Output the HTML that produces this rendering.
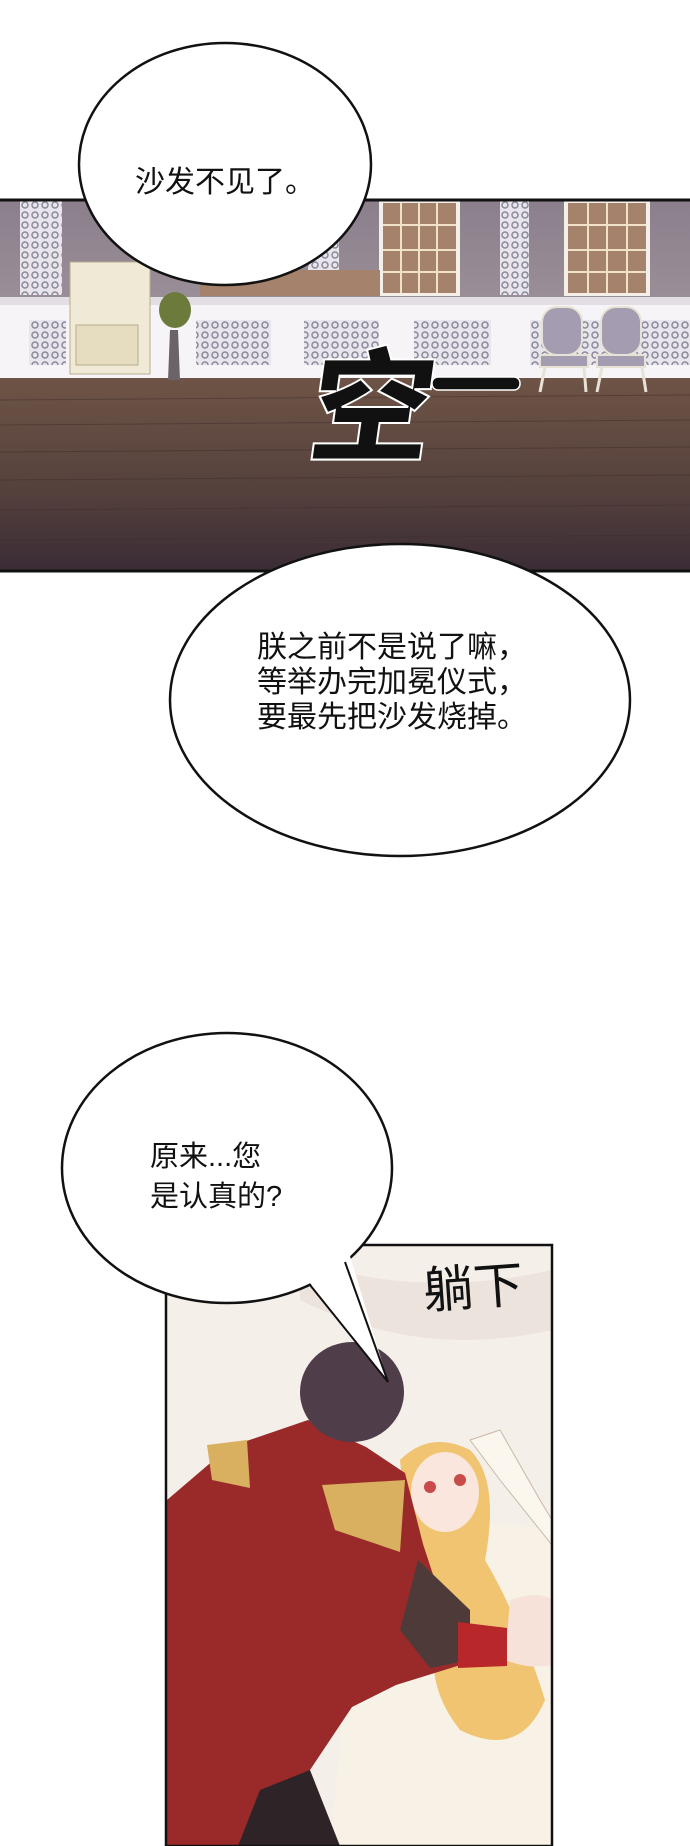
<!DOCTYPE html>
<html><head><meta charset="utf-8"><style>
html,body{margin:0;padding:0;background:#fff;}
body{width:690px;height:1846px;position:relative;overflow:hidden;font-family:"Liberation Sans","Noto Sans CJK SC",sans-serif;}
.t{position:absolute;color:#111;white-space:nowrap;}
</style></head><body>
<svg width="690" height="1846" style="position:absolute;left:0;top:0">
<defs>
<linearGradient id="fl" x1="0" y1="0" x2="0" y2="1"><stop offset="0" stop-color="#6e5446"/><stop offset="0.6" stop-color="#54403c"/><stop offset="1" stop-color="#3a2c36"/></linearGradient>
<linearGradient id="wl" x1="0" y1="0" x2="0" y2="1"><stop offset="0" stop-color="#8b7f8c"/><stop offset="1" stop-color="#9a8e98"/></linearGradient>
<pattern id="lace" width="10" height="10" patternUnits="userSpaceOnUse"><rect width="10" height="10" fill="#e8e6ec"/><circle cx="5" cy="5" r="3" fill="none" stroke="#8a8898" stroke-width="1.5"/></pattern>
</defs>
<!-- panel 1 -->
<rect x="0" y="200" width="690" height="100" fill="url(#wl)"/>
<rect x="20" y="200" width="42" height="95" fill="url(#lace)"/>
<rect x="500" y="200" width="29" height="95" fill="url(#lace)"/>
<rect x="308" y="240" width="31" height="55" fill="url(#lace)"/>
<rect x="379" y="200" width="81" height="96" fill="#f4efe8"/>
<rect x="383" y="203" width="73" height="90" fill="#a4826c"/>
<g stroke="#efe2c8" stroke-width="2"><line x1="419" y1="203" x2="419" y2="293"/><line x1="401" y1="203" x2="401" y2="293"/><line x1="437" y1="203" x2="437" y2="293"/><line x1="383" y1="225" x2="456" y2="225"/><line x1="383" y1="250" x2="456" y2="250"/><line x1="383" y1="272" x2="456" y2="272"/></g>
<rect x="564" y="200" width="86" height="96" fill="#f4efe8"/>
<rect x="568" y="203" width="78" height="90" fill="#a4826c"/>
<g stroke="#efe2c8" stroke-width="2"><line x1="607" y1="203" x2="607" y2="293"/><line x1="588" y1="203" x2="588" y2="293"/><line x1="627" y1="203" x2="627" y2="293"/><line x1="568" y1="225" x2="646" y2="225"/><line x1="568" y1="250" x2="646" y2="250"/><line x1="568" y1="272" x2="646" y2="272"/></g>
<rect x="200" y="270" width="180" height="26" fill="#a4826c"/>
<rect x="0" y="297" width="690" height="83" fill="#f6f4f6"/>
<rect x="0" y="297" width="690" height="8" fill="#e2dee4"/>
<rect x="29" y="320" width="37" height="45" fill="url(#lace)"/>
<rect x="196" y="320" width="75" height="45" fill="url(#lace)"/>
<rect x="304" y="320" width="75" height="45" fill="url(#lace)"/>
<rect x="414" y="320" width="77" height="45" fill="url(#lace)"/>
<rect x="530" y="320" width="160" height="45" fill="url(#lace)"/>
<rect x="0" y="378" width="690" height="193" fill="url(#fl)"/>
<g stroke="#3e2e2c" stroke-width="1" opacity="0.5">
<line x1="0" y1="400" x2="690" y2="395"/><line x1="0" y1="425" x2="690" y2="420"/><line x1="0" y1="452" x2="690" y2="447"/><line x1="0" y1="480" x2="690" y2="475"/><line x1="0" y1="510" x2="690" y2="505"/><line x1="0" y1="540" x2="690" y2="535"/></g>
<rect x="70" y="262" width="80" height="112" fill="#efe9d6" stroke="#b8ad90"/>
<rect x="76" y="325" width="62" height="40" fill="#e6dcc0" stroke="#b8ad90"/>
<path d="M170 330 L178 330 L180 380 L168 380 Z" fill="#6a6468"/>
<ellipse cx="175" cy="310" rx="16" ry="18" fill="#6c7a3c"/>
<g fill="#a49cb0" stroke="#e8e2d6" stroke-width="2">
<rect x="542" y="307" width="40" height="48" rx="15"/><rect x="540" y="355" width="48" height="12"/>
<rect x="601" y="307" width="40" height="48" rx="15"/><rect x="597" y="355" width="48" height="12"/></g>
<g stroke="#e8e2d6" stroke-width="3"><line x1="545" y1="367" x2="540" y2="392"/><line x1="584" y1="367" x2="586" y2="392"/><line x1="602" y1="367" x2="597" y2="392"/><line x1="642" y1="367" x2="646" y2="392"/></g>
<line x1="0" y1="200" x2="690" y2="200" stroke="#111" stroke-width="3"/>
<line x1="0" y1="571" x2="690" y2="571" stroke="#111" stroke-width="3"/>
<ellipse cx="225" cy="164" rx="146" ry="121" fill="#fff" stroke="#111" stroke-width="2.5"/>
<text x="308" y="452" font-family="Noto Sans CJK SC, sans-serif" font-size="124" font-weight="900" fill="#111" stroke="#fff" stroke-width="2" transform="skewX(-8) translate(60,0)">空</text>
<rect x="432" y="377" width="88" height="13" rx="6" fill="#111" stroke="#fff" stroke-width="1.5"/>
<ellipse cx="400" cy="700" rx="230" ry="156" fill="#fff" stroke="#111" stroke-width="2.5"/>
<!-- panel 2 -->
<rect x="166" y="1245" width="386" height="601" fill="#f5efe9"/>
<path d="M300 1260 Q420 1300 552 1270 L552 1330 Q420 1360 300 1300 Z" fill="#ece3dc"/>
<path d="M360 1560 L470 1520 L552 1530 L552 1846 L330 1846 Z" fill="#f8f2e6"/>
<path d="M395 1535 L470 1525 L470 1580 L400 1590 Z" fill="#e2c898"/>
<path d="M400 1460 Q430 1430 470 1450 Q500 1480 485 1560 Q520 1620 545 1700 Q520 1760 460 1730 Q420 1680 440 1620 Q410 1560 400 1460 Z" fill="#f0c470"/>
<ellipse cx="445" cy="1492" rx="34" ry="40" fill="#fae6dc"/>
<circle cx="430" cy="1487" r="6" fill="#c84a4a"/><circle cx="460" cy="1480" r="6" fill="#c84a4a"/>
<path d="M470 1440 L500 1430 L540 1500 L552 1520 L552 1545 L500 1480 Z" fill="#fbf6ee" stroke="#c9b8a8"/>
<path d="M510 1600 Q540 1590 552 1600 L552 1665 Q530 1670 505 1660 Z" fill="#f6e2d8"/>
<path d="M167 1500 L229 1447 L308 1420 L366 1447 L405 1473 L423 1544 L440 1596 L467 1618 L467 1663 L396 1685 L352 1707 L308 1773 L264 1817 L238 1846 L167 1846 Z" fill="#9a2a2a"/>
<path d="M418 1560 L470 1610 L470 1660 L430 1668 L400 1630 Z" fill="#4e3a38"/>
<path d="M458 1622 L507 1628 L507 1666 L458 1668 Z" fill="#b8282a"/>
<path d="M238 1846 L260 1790 L310 1770 L340 1846 Z" fill="#2e2428"/>
<ellipse cx="352" cy="1392" rx="52" ry="50" fill="#4f3d4a"/>
<path d="M207 1445 L247 1440 L250 1488 L212 1480 Z" fill="#d8b060"/>
<path d="M322 1485 L405 1480 L400 1552 L335 1530 Z" fill="#d8b060"/>
<rect x="166" y="1245" width="386" height="601" fill="none" stroke="#111" stroke-width="2.5"/>
<rect x="164" y="1846" width="392" height="4" fill="#fff"/>
<!-- bubble 3 -->
<ellipse cx="227" cy="1168" rx="165" ry="135" fill="#fff" stroke="#111" stroke-width="2.5"/>
<polygon points="306,1278 350,1256 388,1382" fill="#fff"/>
<line x1="310" y1="1285" x2="388" y2="1382" stroke="#111" stroke-width="2"/>
<line x1="345" y1="1262" x2="388" y2="1382" stroke="#111" stroke-width="2"/>
</svg>
<div class="t" style="left:135px;top:157px;font-size:30px;">沙发不见了。</div>
<div class="t" style="left:257px;top:630px;font-size:30px;line-height:35px;">朕之前不是说了嘛，<br>等举办完加冕仪式，<br>要最先把沙发烧掉。</div>
<div class="t" style="left:150px;top:1137px;font-size:29px;line-height:40px;">原来...您<br>是认真的?</div>
<div class="t" style="left:423px;top:1248px;font-size:50px;transform:rotate(-4deg);">躺下</div>
</body></html>
